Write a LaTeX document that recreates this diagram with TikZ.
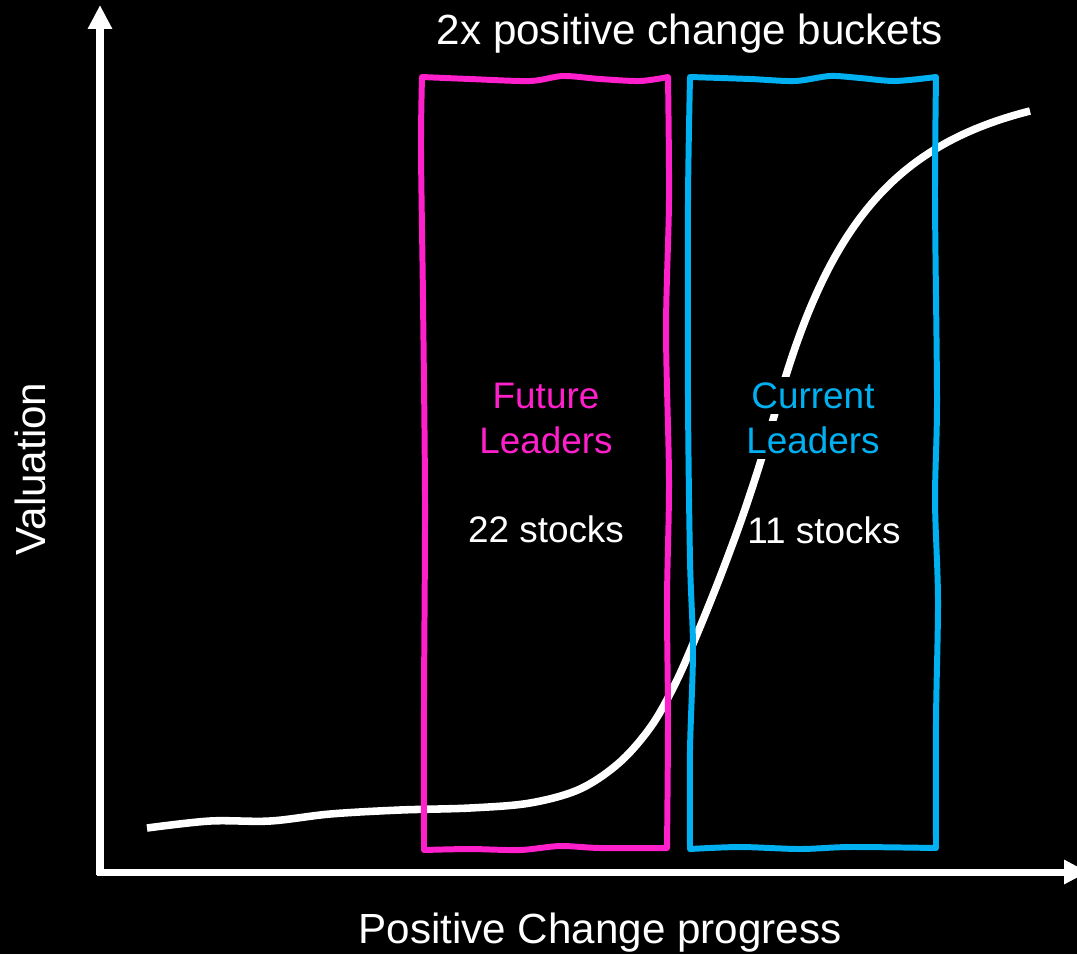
\documentclass[tikz,border=0pt]{standalone}
\usepackage{fontspec}
\setmainfont{Liberation Sans}
\usepackage{tikz}
\usetikzlibrary{arrows.meta, positioning}
\definecolor{FutPink}{HTML}{FF1FCB}
\definecolor{CurBlue}{HTML}{00B0F0}

\begin{document}
\begin{tikzpicture}[
    x=0.02cm, y=-0.02cm,
    axis/.style={white, line width=4pt, -{Triangle[length=4.8mm, width=4.6mm]}},
    scurve/.style={white, line width=4.3pt},
    bucket/.style={line width=3.4pt, line join=round},
    boxtext/.style={font=\fontsize{21}{25.5}\selectfont, inner sep=0pt, anchor=base},
    lbl/.style={text=white, font=\fontsize{24}{29}\selectfont, inner sep=0pt}
]
    % Background
    \fill[black] (0,0) rectangle (1077,954);
    \useasboundingbox (0,0) rectangle (1077,954);

    % Axes
    \coordinate (orig) at (100,872);
    \coordinate (ytip) at (100,5);
    \coordinate (xtip) at (1088,872);
    \draw[axis] ([yshift=-0.06cm]orig) -- (ytip);
    \draw[axis] ([xshift=-0.06cm]orig) -- (xtip);

    % S-curve
    \draw[scurve] plot[smooth, tension=0.55] coordinates {
        (147,828) (210,821) (270,821) (330,814) (400,810) (470,808)
        (530,803) (580,789) (620,762) (652,725) (677,680) (700,627)
        (722,572) (743,515) (762,457) (781,392)}
        .. controls (832,218) and (900,144) .. (1030,111);

    % Buckets
    \draw[bucket, FutPink]
        plot[smooth] coordinates {(422,77) (470,79) (530,81) (563,76) (600,79) (640,81) (668,77)}
        -- plot[smooth] coordinates {(668,77) (669,200) (666,330) (669,480) (667,600) (668,720) (667,848)}
        -- plot[smooth] coordinates {(667,848) (600,848) (560,846) (520,850) (470,849) (424,850)}
        -- plot[smooth] coordinates {(424,850) (424,700) (425,500) (423,300) (421,150) (422,77)} -- cycle;
    \draw[bucket, CurBlue]
        plot[smooth] coordinates {(690,77) (750,79) (795,81) (830,76) (860,78) (895,81) (936,77)}
        -- plot[smooth] coordinates {(936,77) (935,200) (937,400) (935,500) (938,600) (936,720) (936,848)}
        -- plot[smooth] coordinates {(936,848) (850,847) (800,849) (740,847) (690,849)}
        -- plot[smooth] coordinates {(690,849) (690,750) (693,650) (690,560) (688,400) (688,200) (690,77)} -- cycle;

    % Bucket texts
    \node[boxtext, text=FutPink] (futA) at (546,408) {Future};
    \node[boxtext, text=FutPink] (futB) at ([yshift=-0.9cm]futA.base) {Leaders};
    \node[boxtext, text=white] (futN) at ([yshift=-1.8cm]futB.base) {22 stocks};
    \node[boxtext, text=CurBlue, fill=black, inner sep=3pt] (curA) at (813,408) {Current};
    \node[boxtext, text=CurBlue, fill=black, inner sep=3pt] (curB) at ([yshift=-0.9cm]curA.base) {Leaders};
    \node[boxtext, text=white] (curN) at (824,543) {11 stocks};

    % Title and axis names
    \node[lbl, anchor=base] (title) at (690,44) {2x positive change buckets};
    \node[lbl, anchor=base] (xname) at (600,943) {Positive Change progress};
    \node[lbl, rotate=90] (yname) at (30,469) {Valuation};
\end{tikzpicture}
\end{document}
